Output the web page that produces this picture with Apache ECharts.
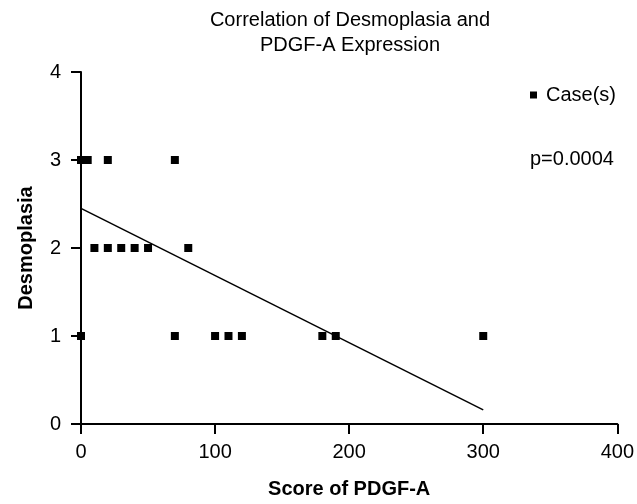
<!DOCTYPE html>
<html>
<head>
<meta charset="utf-8">
<script src="https://cdn.jsdelivr.net/npm/echarts@6/dist/echarts.min.js"></script>
<style>
  html, body { margin: 0; padding: 0; background: #fff; }
  #chart { width: 637px; height: 504px; }
</style>
</head>
<body>
<div id="chart"></div>
<script>
// PDGF-A score and desmoplasia grade per case
const scoreX = [0, 5, 20, 70, 10, 20, 30, 40, 50, 80, 0, 70, 100, 110, 120, 180, 190, 300];
const desmoY = [3, 3, 3, 3, 2, 2, 2, 2, 2, 2, 1, 1, 1, 1, 1, 1, 1, 1];
// regression line ends
const fitX = [0, 300];
const fitY = [2.45, 0.16];
const xTicks = [0, 100, 200, 300, 400];
const yTicks = [0, 1, 2, 3, 4];

const chart = echarts.init(document.getElementById('chart'));
const font = 'Liberation Sans, Arial, sans-serif';

const option = {
  animation: false,
  backgroundColor: '#fff',
  title: [{
    text: 'Correlation of Desmoplasia and\nPDGF-A Expression',
    left: 350,
    top: 8,
    textAlign: 'center',
    padding: 0,
    textStyle: { fontFamily: font, fontSize: 20, fontWeight: 'normal', color: '#000', lineHeight: 25 }
  }, {
    text: 'p=0.0004',
    left: 530,
    top: 149,
    padding: 0,
    textStyle: { fontFamily: font, fontSize: 20, fontWeight: 'normal', color: '#000' }
  }],
  legend: {
    data: ['Case(s)'],
    left: 530,
    top: 85,
    padding: 0,
    icon: 'rect',
    itemWidth: 7,
    itemHeight: 7,
    textStyle: { fontFamily: font, fontSize: 20, color: '#000', padding: [0, 0, 0, 4] }
  },
  grid: { left: 81, right: 17, top: 72, bottom: 74 },
  xAxis: {
    type: 'value',
    min: xTicks[0],
    max: xTicks[xTicks.length - 1],
    interval: 100,
    name: 'Score of PDGF-A',
    nameLocation: 'middle',
    nameGap: 55,
    nameTextStyle: { fontFamily: font, fontSize: 20, fontWeight: 'bold', color: '#000' },
    axisLine: { lineStyle: { color: '#000', width: 2 } },
    axisTick: { length: 10, lineStyle: { color: '#000', width: 2 } },
    axisLabel: { fontFamily: font, fontSize: 20, color: '#000', margin: 18 },
    splitLine: { show: false }
  },
  yAxis: {
    type: 'value',
    min: yTicks[0],
    max: yTicks[yTicks.length - 1],
    interval: 1,
    name: 'Desmoplasia',
    nameLocation: 'middle',
    nameGap: 45,
    nameTextStyle: { fontFamily: font, fontSize: 20, fontWeight: 'bold', color: '#000' },
    axisLine: { show: true, lineStyle: { color: '#000', width: 2 } },
    axisTick: { show: true, length: 10, lineStyle: { color: '#000', width: 2 } },
    axisLabel: { fontFamily: font, fontSize: 20, color: '#000', margin: 20 },
    splitLine: { show: false }
  },
  series: [{
    name: 'Case(s)',
    type: 'scatter',
    symbol: 'rect',
    symbolSize: 8,
    itemStyle: { color: '#000', opacity: 1 },
    data: scoreX.map((x, i) => [x, desmoY[i]]),
    z: 3
  }, {
    name: 'fit',
    type: 'line',
    symbol: 'none',
    lineStyle: { color: '#000', width: 1.5 },
    data: fitX.map((x, i) => [x, fitY[i]]),
    z: 2
  }]
};

chart.setOption(option);
</script>
</body>
</html>
